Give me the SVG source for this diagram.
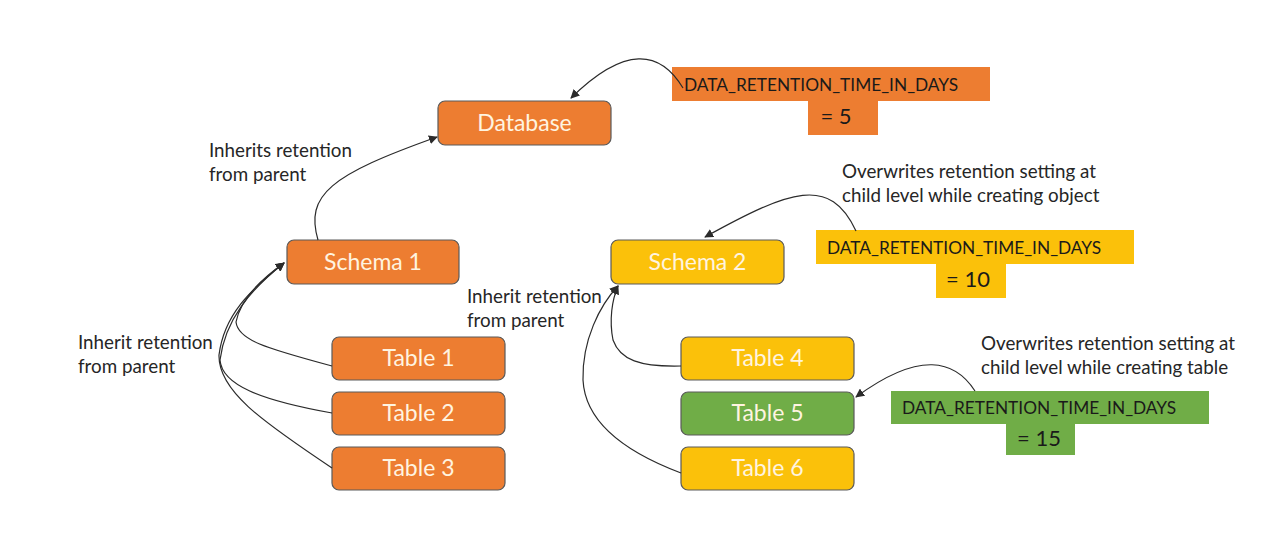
<svg xmlns="http://www.w3.org/2000/svg" width="1283" height="558" viewBox="0 0 1283 558">
<defs>
<style>
.node rect{stroke:#5a5a5a;stroke-width:1.2}
.o{fill:#ED7D31}.y{fill:#FBC10A}.g{fill:#70AD47}
.nt{font-family:Lato,"Open Sans",sans-serif;font-size:23px;fill:#FFF4E0;text-anchor:middle}
.lbl{font-family:Lato,"Open Sans",sans-serif;font-size:18.8px;fill:#262626}
.kv{font-family:Lato,"Open Sans",sans-serif;font-size:17.3px;fill:#1a1a1a}
.kv2{font-family:Lato,"Open Sans",sans-serif;font-size:22px;fill:#1a1a1a;text-anchor:middle}
.c path{fill:none;stroke:#2b2b2b;stroke-width:1.2}
</style>
<marker id="ah" viewBox="0 0 10 10" refX="9" refY="5" markerWidth="9" markerHeight="9" markerUnits="userSpaceOnUse" orient="auto"><path d="M0 0 L10 5 L0 10 z" fill="#2b2b2b"/></marker>
</defs>
<rect width="1283" height="558" fill="#fff"/>

<g id="setting-db">
<rect class="o" x="672" y="67" width="318" height="34"/>
<rect class="o" x="808" y="100" width="70" height="35"/>
<text class="kv" x="684" y="91">DATA_RETENTION_TIME_IN_DAYS</text>
<text class="kv2" x="836" y="124">= 5</text>
</g>
<g id="setting-schema2">
<rect class="y" x="816" y="230" width="318" height="34"/>
<rect class="y" x="936" y="263" width="70" height="35"/>
<text class="kv" x="827" y="254">DATA_RETENTION_TIME_IN_DAYS</text>
<text class="kv2" x="968" y="287">= 10</text>
</g>
<g id="setting-table5">
<rect class="g" x="891" y="391" width="318" height="33"/>
<rect class="g" x="1006" y="423" width="69" height="32"/>
<text class="kv" x="902" y="414">DATA_RETENTION_TIME_IN_DAYS</text>
<text class="kv2" x="1039" y="446">= 15</text>
</g>

<g id="database" class="node"><rect class="o" x="438" y="101" width="173" height="44" rx="7"/><text class="nt" x="524.5" y="131">Database</text></g>
<g id="schema1" class="node"><rect class="o" x="287" y="240" width="172" height="44" rx="7"/><text class="nt" x="373" y="270">Schema 1</text></g>
<g id="schema2" class="node"><rect class="y" x="611" y="240" width="173" height="44" rx="7"/><text class="nt" x="697.5" y="270">Schema 2</text></g>
<g id="table1" class="node"><rect class="o" x="332" y="337" width="173" height="43" rx="7"/><text class="nt" x="418.5" y="366">Table 1</text></g>
<g id="table2" class="node"><rect class="o" x="332" y="392" width="173" height="43" rx="7"/><text class="nt" x="418.5" y="421">Table 2</text></g>
<g id="table3" class="node"><rect class="o" x="332" y="447" width="173" height="43" rx="7"/><text class="nt" x="418.5" y="476">Table 3</text></g>
<g id="table4" class="node"><rect class="y" x="681" y="337" width="173" height="43" rx="7"/><text class="nt" x="767.5" y="366">Table 4</text></g>
<g id="table5" class="node"><rect class="g" x="681" y="392" width="173" height="43" rx="7"/><text class="nt" x="767.5" y="421">Table 5</text></g>
<g id="table6" class="node"><rect class="y" x="681" y="447" width="173" height="43" rx="7"/><text class="nt" x="767.5" y="476">Table 6</text></g>

<g id="labels">
<text class="lbl" x="209" y="157">Inherits retention</text>
<text class="lbl" x="209" y="181">from parent</text>
<text class="lbl" x="842" y="178">Overwrites retention setting at</text>
<text class="lbl" x="842" y="202">child level while creating object</text>
<text class="lbl" x="467" y="303">Inherit retention</text>
<text class="lbl" x="467" y="327">from parent</text>
<text class="lbl" x="78" y="349">Inherit retention</text>
<text class="lbl" x="78" y="373">from parent</text>
<text class="lbl" x="981" y="350">Overwrites retention setting at</text>
<text class="lbl" x="981" y="374">child level while creating table</text>
</g>

<g id="connectors" class="c">
<path d="M683 88 C660 50,625 45,571 98" marker-end="url(#ah)"/>
<path d="M318 240 C305 195,330 175,437 137" marker-end="url(#ah)"/>
<path d="M856 231 C830 175,790 190,705 237" marker-end="url(#ah)"/>
<path d="M332 366 C265 348,238 340,236 322 C240 300,260 280,284 263" marker-end="url(#ah)"/>
<path d="M332 413 C260 400,222 385,220 360 C225 320,250 290,284 263" marker-end="url(#ah)"/>
<path d="M332 468 C260 420,218 390,219 355 C224 315,250 290,284 263" marker-end="url(#ah)"/>
<path d="M681 366 C640 367,620 360,613 340 C609 320,612 300,618 286" marker-end="url(#ah)"/>
<path d="M681 473 C620 450,585 420,583 380 C582 340,600 305,618 286" marker-end="url(#ah)"/>
<path d="M975 391 C955 360,920 350,856 397" marker-end="url(#ah)"/>
</g>
</svg>
